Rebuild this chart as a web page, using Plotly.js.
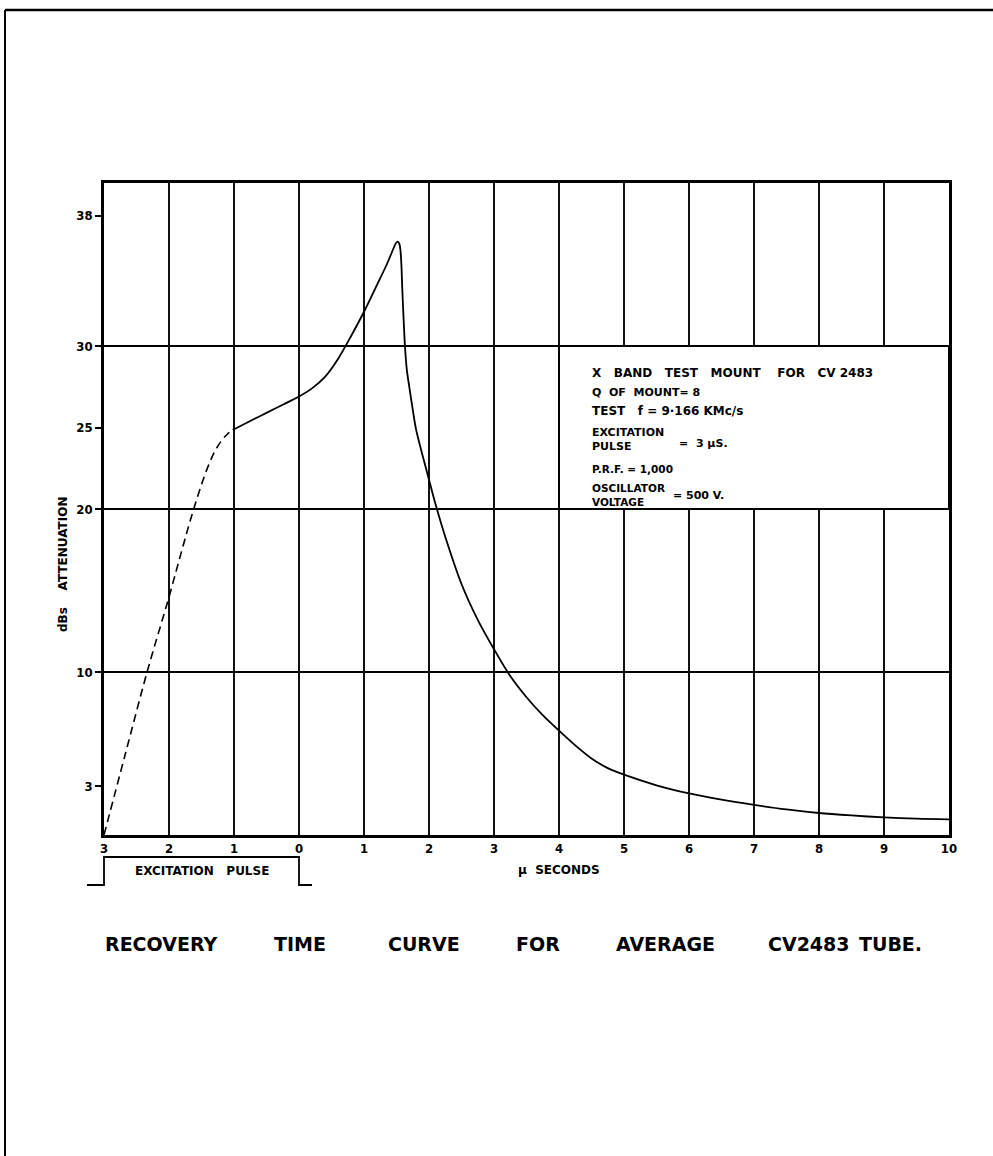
<!DOCTYPE html>
<html>
<head>
<meta charset="utf-8">
<script src="https://cdn.plot.ly/plotly-3.0.1.min.js"></script>
<style>html,body{margin:0;padding:0;background:#fff;}#chart{width:993px;height:1156px;}</style>
</head>
<body>
<div id="chart"></div>
<script>
// ---- data ----
const dashX = [-3, -2.67, -2.33, -2.0, -1.8, -1.65, -1.5, -1.4, -1.3, -1.2, -1.1, -1.02];
const dashY = [0, 5.0, 10.1, 14.6, 17.5, 19.6, 21.5, 22.6, 23.5, 24.15, 24.6, 24.85];
const solidX = [-1.02, -0.75, -0.5, -0.25, 0, 0.2, 0.4, 0.6, 0.8, 1.0, 1.2, 1.35, 1.45, 1.49, 1.52, 1.545, 1.56, 1.575, 1.59, 1.61, 1.63, 1.66, 1.7, 1.75, 1.8, 1.9, 2.0, 2.1, 2.25, 2.5, 2.75, 3.0, 3.25, 3.5, 3.75, 4.0, 4.25, 4.5, 4.75, 5.0, 5.5, 6.0, 6.5, 7.0, 7.5, 8.0, 8.5, 9.0, 9.5, 10.0];
const solidY = [24.85, 25.4, 25.9, 26.4, 26.9, 27.4, 28.1, 29.2, 30.6, 32.1, 33.75, 35.0, 35.95, 36.3, 36.4, 36.25, 35.9, 35.0, 33.4, 31.6, 30.0, 28.5, 27.4, 26.1, 24.9, 23.3, 21.8, 20.3, 18.3, 15.4, 13.2, 11.4, 9.75, 8.45, 7.35, 6.4, 5.5, 4.7, 4.1, 3.7, 3.05, 2.55, 2.17, 1.85, 1.57, 1.35, 1.2, 1.08, 1.0, 0.96];
const xTickVals = [-3, -2, -1, 0, 1, 2, 3, 4, 5, 6, 7, 8, 9, 10];
const xTickText = ['3', '2', '1', '0', '1', '2', '3', '4', '5', '6', '7', '8', '9', '10'];
const yTickVals = [3, 10, 20, 25, 30, 38];
const yTickText = ['3', '10', '20', '25', '30', '38'];
const yGridVals = [10, 20, 30];
const xRange = [-3, 10];
const yRange = [0, 40];
const pulseRange = [-3, 0];
const noteBox = {x: [4, 10], y: [20, 30]};
const titleWords = ['RECOVERY', 'TIME', 'CURVE', 'FOR', 'AVERAGE', 'CV2483', 'TUBE.'];

// ---- layout geometry (pixels) ----
const W = 993, H = 1156, L = 104, R = 949, T = 183, B = 835;
const fx = px => (px - L) / (R - L);
const fy = py => (B - py) / (B - T);
const dx = v => (v - xRange[0]) / (xRange[1] - xRange[0]);
const TICKFONT = '"DejaVu Sans Condensed", "Liberation Sans Narrow", "DejaVu Sans", sans-serif';
const FONT = '"DejaVu Sans", sans-serif';

function txt(text, px, py, size, opts) {
  return Object.assign({
    text: '<b>' + text + '</b>', xref: 'paper', yref: 'paper', x: fx(px), y: fy(py),
    xanchor: 'left', yanchor: 'middle', align: 'left', showarrow: false,
    font: {family: FONT, size: size, color: '#000'}
  }, opts || {});
}

const traces = [
  {x: dashX, y: dashY, mode: 'lines', line: {color: '#000', width: 1.6, dash: '8px,5px', shape: 'spline', smoothing: 1}, hoverinfo: 'skip'},
  {x: solidX, y: solidY, mode: 'lines', line: {color: '#000', width: 1.8, shape: 'spline', smoothing: 0.8}, hoverinfo: 'skip'}
];

const shapes = [];
yGridVals.forEach(v => shapes.push({type: 'line', xref: 'paper', yref: 'y', x0: 0, x1: 1, y0: v, y1: v, line: {color: '#000', width: 2}, layer: 'below'}));
shapes.push({type: 'rect', xref: 'x', yref: 'y', x0: noteBox.x[0], x1: noteBox.x[1], y0: noteBox.y[0], y1: noteBox.y[1], fillcolor: '#fff', line: {color: '#000', width: 2}, layer: 'above'});
// excitation pulse outline
const pl = dx(pulseRange[0]), pr = dx(pulseRange[1]);
const lowY = fy(885), highY = fy(857);
shapes.push({type: 'path', xref: 'paper', yref: 'paper',
  path: `M ${fx(87)},${lowY} L ${pl},${lowY} L ${pl},${highY} L ${pr},${highY} L ${pr},${lowY} L ${fx(312)},${lowY}`,
  line: {color: '#000', width: 1.8}});
// page frame
shapes.push({type: 'line', xref: 'paper', yref: 'paper', x0: fx(5), x1: fx(5), y0: fy(10), y1: fy(1160), line: {color: '#000', width: 2}});
shapes.push({type: 'line', xref: 'paper', yref: 'paper', x0: fx(5), x1: fx(1000), y0: fy(10), y1: fy(10), line: {color: '#000', width: 2.5}});

const S = '\u00a0';
const sp = n => S.repeat(n);
const annotations = [
  txt('X' + sp(3) + 'BAND' + sp(3) + 'TEST' + sp(3) + 'MOUNT' + sp(4) + 'FOR' + sp(3) + 'CV' + sp(1) + '2483', 590, 373, 12),
  txt('Q' + sp(2) + 'OF' + sp(2) + 'MOUNT=' + sp(1) + '8', 590, 392, 11),
  txt('TEST' + sp(3) + 'f' + sp(1) + '=' + sp(1) + '9·166' + sp(1) + 'KMc/s', 590, 411, 12),
  txt('EXCITATION<br>PULSE', 590, 440, 11),
  txt('=' + sp(2) + '3' + sp(1) + 'μS.', 677, 443, 11),
  txt('P.R.F.' + sp(1) + '=' + sp(1) + '1,000', 590, 469, 10.5),
  txt('OSCILLATOR<br>VOLTAGE', 590, 495, 10.5),
  txt('=' + sp(1) + '500' + sp(1) + 'V.', 671, 495, 11),
  txt('dBs' + sp(4) + 'ATTENUATION', 63, 565, 12, {xanchor: 'center', textangle: -90}),
  txt('μ' + sp(2) + 'SECONDS', 559, 870, 12, {xanchor: 'center'}),
  txt('EXCITATION' + sp(3) + 'PULSE', 202, 871, 12, {xanchor: 'center'})
];
const titleX = [103, 272, 386, 514, 614, 766, 857];
titleWords.forEach((w, i) => annotations.push(txt(w, titleX[i], 944, 19)));

const layout = {
  width: W, height: H,
  margin: {l: L, r: W - R, t: T, b: H - B, pad: 0},
  paper_bgcolor: '#fff', plot_bgcolor: '#fff',
  showlegend: false, hovermode: false, dragmode: false,
  xaxis: {
    range: xRange, tickvals: xTickVals, ticktext: xTickText, ticks: '',
    showgrid: true, gridcolor: '#111', gridwidth: 2, zeroline: false,
    showline: true, mirror: true, linecolor: '#000', linewidth: 2.5,
    tickfont: {family: TICKFONT, size: 13, color: '#000', weight: 'bold'}, fixedrange: true
  },
  yaxis: {
    range: yRange, tickvals: yTickVals, ticktext: yTickText, ticks: 'outside', ticklen: 6, tickwidth: 1.5, tickcolor: '#000',
    showgrid: false, zeroline: false,
    showline: true, mirror: true, linecolor: '#000', linewidth: 2.5,
    tickfont: {family: TICKFONT, size: 13, color: '#000', weight: 'bold'}, fixedrange: true
  },
  shapes: shapes,
  annotations: annotations
};

Plotly.newPlot('chart', traces, layout, {displayModeBar: false, responsive: false});
</script>
</body>
</html>
